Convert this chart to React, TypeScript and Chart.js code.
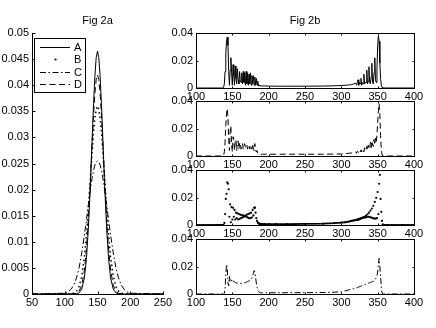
import React, { useEffect, useRef } from 'react';
import { Chart, registerables } from 'chart.js';

Chart.register(...registerables);

const W = 436;
const H = 328;
const FONT = "'Liberation Sans', Arial, Helvetica, sans-serif";

// ---------- Fig 2a (left panel) ----------
const titleLeft = 'Fig 2a';
const titleRight = 'Fig 2b';
const legendLabels = ['A', 'B', 'C', 'D'];

const xLeft = [50, 100, 106, 110, 114, 118, 122, 126, 130, 133, 136, 139, 142, 144, 146, 148, 150,
  152, 154, 156, 158, 161, 164, 167, 170, 174, 178, 182, 186, 190, 194, 200, 250];
const leftA = [0, 0, 0, 0, 0.00001, 0.00005, 0.00023, 0.00095, 0.0031, 0.0066, 0.0124, 0.0205, 0.0302, 0.0365, 0.0417, 0.0453, 0.0465,
  0.0453, 0.0417, 0.0365, 0.0302, 0.0205, 0.0124, 0.0066, 0.0031, 0.00095, 0.00023, 0.00005, 0.00001, 0, 0, 0, 0];
const leftB = [0, 0.00001, 0.00001, 0.00005, 0.00018, 0.00056, 0.00148, 0.0034, 0.0071, 0.0111, 0.0162, 0.022, 0.0277, 0.0311, 0.0337, 0.0354, 0.036,
  0.0354, 0.0337, 0.0311, 0.0277, 0.022, 0.0162, 0.0111, 0.0071, 0.0034, 0.00148, 0.00056, 0.00018, 0.00005, 0.00001, 0.00001, 0];
const leftC = [0, 0.00015, 0.00049, 0.00097, 0.0018, 0.0031, 0.0051, 0.0079, 0.0113, 0.0141, 0.0171, 0.0199, 0.0224, 0.0237, 0.0247, 0.0253, 0.0255,
  0.0253, 0.0247, 0.0237, 0.0224, 0.0199, 0.0171, 0.0141, 0.0113, 0.0079, 0.0051, 0.0031, 0.0018, 0.00097, 0.00049, 0.00015, 0];
const leftD = [0, 0, 0, 0.00001, 0.00003, 0.00014, 0.00055, 0.0017, 0.0046, 0.0085, 0.0142, 0.0215, 0.0295, 0.0344, 0.0384, 0.0411, 0.042,
  0.0411, 0.0384, 0.0344, 0.0295, 0.0215, 0.0142, 0.0085, 0.0046, 0.0017, 0.00055, 0.00014, 0.00003, 0.00001, 0, 0, 0];

const leftXTicks = [50, 100, 150, 200, 250];
const leftYTicks = [0, 0.005, 0.01, 0.015, 0.02, 0.025, 0.03, 0.035, 0.04, 0.045, 0.05];

// ---------- Fig 2b (right panels) ----------
const xRight = [100, 110, 120, 130, 135,
  136, 137, 138, 139, 140, 141, 142, 143, 144, 145,
  146, 147, 148, 149, 150, 151, 152, 153, 154, 155,
  156, 157, 158, 159, 160, 161, 162, 163, 164, 165,
  166, 167, 168, 169, 170, 171, 172, 173, 174, 175,
  176, 177, 178, 179, 180, 181, 182, 183, 184, 185,
  186, 187, 188, 189, 190, 191, 192,
  195, 200, 210, 225, 250, 275, 290, 300, 305, 310, 314, 317,
  320, 321, 322, 323, 324, 325, 326, 327, 328, 329,
  330, 331, 332, 333, 334, 335, 336, 337, 338, 339,
  340, 341, 342, 343, 344, 345, 346, 347, 348, 349,
  350, 351, 352, 353, 354, 355, 356, 357, 358, 359,
  360,
  363, 370, 385, 400];

const rightA = [0, 0, 0, 0, 0,
  0, 0, 0.0005, 0.003, 0.012, 0.025, 0.034, 0.037, 0.031, 0.012,
  0.002, 0.013, 0.022, 0.011, 0.002, 0.017, 0.009, 0.002, 0.016, 0.007,
  0.003, 0.014, 0.006, 0.003, 0.012, 0.005, 0.004, 0.011, 0.003, 0.012,
  0.004, 0.011, 0.002, 0.012, 0.003, 0.011, 0.002, 0.01, 0.003, 0.011,
  0.002, 0.009, 0.003, 0.009, 0.002, 0.008, 0.002, 0.007, 0.002, 0.005,
  0.0015, 0.002, 0.0015, 0.0015, 0.0015, 0.0015, 0.0015,
  0.0015, 0.0014, 0.0013, 0.0013, 0.0013, 0.0014, 0.0016, 0.0018, 0.002, 0.0022, 0.0025, 0.003,
  0.0035, 0.002, 0.004, 0.006, 0.002, 0.004, 0.003, 0.007, 0.002, 0.004,
  0.003, 0.01, 0.003, 0.004, 0.004, 0.013, 0.003, 0.005, 0.0155, 0.004,
  0.003, 0.008, 0.018, 0.004, 0.003, 0.011, 0.022, 0.006, 0.004, 0.014,
  0.031, 0.038, 0.034, 0.018, 0.007, 0.002, 0.0005, 0, 0, 0,
  0,
  0, 0, 0, 0];

const rightD = [0, 0, 0, 0, 0,
  0, 0, 0.0005, 0.003, 0.01, 0.022, 0.031, 0.0345, 0.028, 0.012,
  0.004, 0.018, 0.022, 0.008, 0.003, 0.014, 0.012, 0.004, 0.011, 0.012,
  0.004, 0.01, 0.011, 0.005, 0.009, 0.01, 0.005, 0.008, 0.009, 0.005,
  0.007, 0.009, 0.006, 0.007, 0.008, 0.005, 0.008, 0.007, 0.005, 0.008,
  0.006, 0.005, 0.009, 0.005, 0.004, 0.009, 0.004, 0.003, 0.004, 0.002,
  0.0015, 0.0013, 0.0013, 0.0013, 0.0013, 0.0013, 0.0013,
  0.0013, 0.0013, 0.0013, 0.0013, 0.0013, 0.0013, 0.0014, 0.0015, 0.0017, 0.002, 0.0022, 0.0025,
  0.003, 0.002, 0.0035, 0.003, 0.0025, 0.004, 0.003, 0.0045, 0.003, 0.004,
  0.005, 0.003, 0.006, 0.004, 0.005, 0.007, 0.004, 0.008, 0.006, 0.005,
  0.01, 0.006, 0.011, 0.008, 0.007, 0.012, 0.008, 0.013, 0.01, 0.015,
  0.024, 0.033, 0.038, 0.03, 0.015, 0.005, 0.001, 0, 0, 0,
  0,
  0, 0, 0, 0];

const rightB = [0, 0, 0, 0, 0,
  0, 0, 0, 0.0015, 0.008, 0.019, 0.0227, 0.031, 0.03, 0.026,
  0.006, 0.015, 0.002, 0.013, 0.004, 0.0125, 0.006, 0.011, 0.004, 0.009,
  0.005, 0.0085, 0.004, 0.008, 0.0045, 0.0075, 0.005, 0.0072, 0.0055, 0.007,
  0.006, 0.0065, 0.0068, 0.006, 0.0075, 0.0055, 0.008, 0.005, 0.0085, 0.005,
  0.009, 0.0055, 0.011, 0.007, 0.0125, 0.0128, 0.009, 0.005, 0.003, 0.0018,
  0.0012, 0.001, 0.0008, 0.0007, 0.0007, 0.0006, 0.0006,
  0.0006, 0.0006, 0.0006, 0.0006, 0.0008, 0.001, 0.0014, 0.0018, 0.002, 0.0025, 0.003, 0.0033,
  0.0036, 0.0037, 0.0039, 0.004, 0.0042, 0.0044, 0.0046, 0.0048, 0.005, 0.0052,
  0.0054, 0.0057, 0.006, 0.0055, 0.0068, 0.0058, 0.0078, 0.006, 0.009, 0.0058,
  0.0105, 0.0055, 0.012, 0.005, 0.014, 0.0048, 0.0168, 0.0046, 0.0198, 0.005,
  0.024, 0.008, 0.03, 0.0365, 0.019, 0.0096, 0.003, 0.0005, 0, 0,
  0,
  0, 0, 0, 0];

const rightC = [0, 0, 0, 0, 0,
  0, 0, 0, 0.0005, 0.004, 0.014, 0.0215, 0.019, 0.008, 0.006,
  0.0128, 0.009, 0.0105, 0.0095, 0.0105, 0.0095, 0.009, 0.0088, 0.0085, 0.0082,
  0.008, 0.0079, 0.0078, 0.0077, 0.0077, 0.0077, 0.0077, 0.0078, 0.0078, 0.0079,
  0.008, 0.0081, 0.0083, 0.0085, 0.0088, 0.009, 0.0093, 0.0096, 0.01, 0.0105,
  0.011, 0.0118, 0.013, 0.015, 0.017, 0.016, 0.012, 0.008, 0.005, 0.003,
  0.0018, 0.0012, 0.001, 0.0009, 0.0009, 0.0009, 0.0009,
  0.0009, 0.0009, 0.0009, 0.0009, 0.001, 0.0011, 0.0013, 0.0016, 0.0022, 0.003, 0.0035, 0.0039,
  0.0043, 0.0045, 0.0047, 0.0049, 0.0051, 0.0053, 0.0055, 0.0057, 0.0059, 0.0061,
  0.0063, 0.0065, 0.0067, 0.0069, 0.0071, 0.0074, 0.0076, 0.0078, 0.008, 0.0082,
  0.0084, 0.0086, 0.0088, 0.009, 0.0092, 0.0095, 0.01, 0.0108, 0.0118, 0.0128,
  0.016, 0.022, 0.026, 0.02, 0.013, 0.005, 0.001, 0, 0, 0,
  0,
  0, 0, 0, 0];

const rightXTicks = [100, 150, 200, 250, 300, 350, 400];
const rightYTicks = [0, 0.02, 0.04];

// ---------- styles ----------
const Y_AXIS_W = 30;
const X_AXIS_H = 16;
const DASH = [6, 3.5];
const DASHDOT = [6, 2.5, 1.5, 2.5];
const DOTTED = [1.5, 3];

type Box = { l: number; t: number; r: number; b: number };
type Panel = {
  box: Box;
  xs: number[];
  xMin: number; xMax: number; xTicks: number[];
  yMax: number; yTicks: number[];
  title?: string;
  framed: boolean;
  legend?: boolean;
  tickLen: number;
  series: { label: string; ys: number[]; kind: 'solid' | 'dash' | 'dashdot' | 'dotline' | 'dots' }[];
};

const panels: Panel[] = [
  {
    box: { l: 32, t: 33, r: 163, b: 294 }, xs: xLeft, xMin: 50, xMax: 250, xTicks: leftXTicks,
    yMax: 0.05, yTicks: leftYTicks, title: titleLeft, framed: false, legend: true, tickLen: 3,
    series: [
      { label: legendLabels[0], ys: leftA, kind: 'solid' },
      { label: legendLabels[1], ys: leftB, kind: 'dotline' },
      { label: legendLabels[2], ys: leftC, kind: 'dashdot' },
      { label: legendLabels[3], ys: leftD, kind: 'dash' },
    ],
  },
  {
    box: { l: 196, t: 33, r: 414, b: 88 }, xs: xRight, xMin: 100, xMax: 400, xTicks: rightXTicks,
    yMax: 0.04, yTicks: rightYTicks, title: titleRight, framed: true, tickLen: 2,
    series: [{ label: legendLabels[0], ys: rightA, kind: 'solid' }],
  },
  {
    box: { l: 196, t: 101, r: 414, b: 156 }, xs: xRight, xMin: 100, xMax: 400, xTicks: rightXTicks,
    yMax: 0.04, yTicks: rightYTicks, framed: true, tickLen: 2,
    series: [{ label: legendLabels[3], ys: rightD, kind: 'dash' }],
  },
  {
    box: { l: 196, t: 170, r: 414, b: 225 }, xs: xRight, xMin: 100, xMax: 400, xTicks: rightXTicks,
    yMax: 0.04, yTicks: rightYTicks, framed: true, tickLen: 2,
    series: [{ label: legendLabels[1], ys: rightB, kind: 'dots' }],
  },
  {
    box: { l: 196, t: 239, r: 414, b: 294 }, xs: xRight, xMin: 100, xMax: 400, xTicks: rightXTicks,
    yMax: 0.04, yTicks: rightYTicks, framed: true, tickLen: 2,
    series: [{ label: legendLabels[2], ys: rightC, kind: 'dashdot' }],
  },
];

const TITLE_LINE = 11 * 1.2;
const TITLE_TOP = 14.4;

function makeDataset(p: Panel, s: Panel['series'][number]) {
  const data = p.xs.map((x, i) => ({ x, y: s.ys[i] }));
  const base: any = {
    label: s.label,
    data,
    borderColor: '#000',
    backgroundColor: '#000',
    borderWidth: 1,
    pointRadius: 0,
    fill: false,
    tension: 0,
    borderCapStyle: 'butt',
    legendKind: s.kind,
  };
  if (s.kind === 'dash') base.borderDash = DASH;
  if (s.kind === 'dashdot') base.borderDash = DASHDOT;
  if (s.kind === 'dotline') { base.borderDash = DOTTED; base.borderWidth = 1.5; }
  if (s.kind === 'dots') {
    base.pointRadius = 1.1;
    base.pointBorderWidth = 0;
    base.pointBackgroundColor = '#000';
    base.borderWidth = 1.8;
    // dense runs of marker dots merge into a thick trace where the curve is smooth
    base.segment = {
      borderColor: (ctx: any) => {
        const dx = Math.abs(ctx.p1.parsed.x - ctx.p0.parsed.x) || 1;
        const dy = Math.abs(ctx.p1.parsed.y - ctx.p0.parsed.y);
        return dy / dx <= 0.00035 ? '#000' : 'rgba(0,0,0,0)';
      },
    };
  }
  return base;
}

const framePlugin = {
  id: 'matlabFrame',
  afterDatasetsDraw(chart: any, _args: any, opts: any) {
    const { ctx, chartArea: a, scales } = chart;
    const len = opts.tickLen as number;
    const framed = opts.framed as boolean;
    const L = Math.round(a.left) + 0.5;
    const R = Math.round(a.right) + 0.5;
    const T = Math.round(a.top) + 0.5;
    const B = Math.round(a.bottom) + 0.5;
    ctx.save();
    ctx.strokeStyle = '#000';
    ctx.lineWidth = 1;
    ctx.setLineDash([]);
    ctx.beginPath();
    scales.x.ticks.forEach((t: any) => {
      const px = Math.round(scales.x.getPixelForValue(t.value)) + 0.5;
      ctx.moveTo(px, B); ctx.lineTo(px, B - len);
      if (framed) { ctx.moveTo(px, T); ctx.lineTo(px, T + len); }
    });
    scales.y.ticks.forEach((t: any) => {
      const py = Math.round(scales.y.getPixelForValue(t.value)) + 0.5;
      ctx.moveTo(L, py); ctx.lineTo(L + len, py);
      if (framed) { ctx.moveTo(R, py); ctx.lineTo(R - len, py); }
    });
    if (framed) {
      ctx.moveTo(L, T); ctx.lineTo(R + 0.5, T);
      ctx.moveTo(R, T); ctx.lineTo(R, B + 0.5);
    }
    ctx.stroke();
    ctx.restore();
  },
};

const legendPlugin = {
  id: 'matlabLegend',
  afterDatasetsDraw(chart: any, _args: any, opts: any) {
    if (!opts.show) return;
    const { ctx, chartArea: a } = chart;
    const left = Math.round(a.left) + 2;
    const top = Math.round(a.top) + 5;
    const w = 51;
    const h = 54;
    ctx.save();
    ctx.fillStyle = '#fff';
    ctx.fillRect(left, top, w, h);
    ctx.strokeStyle = '#000';
    ctx.lineWidth = 1;
    ctx.setLineDash([]);
    ctx.strokeRect(left + 0.5, top + 0.5, w, h);
    ctx.font = `11px ${FONT}`;
    ctx.textBaseline = 'middle';
    ctx.textAlign = 'left';
    chart.data.datasets.forEach((ds: any, i: number) => {
      const y = Math.round(top + 8.5 + i * 12.6) + 0.5;
      ctx.strokeStyle = '#000';
      ctx.fillStyle = '#000';
      if (ds.legendKind === 'dotline' || ds.legendKind === 'dots') {
        ctx.beginPath();
        ctx.arc(left + 21.5, y, 1.1, 0, Math.PI * 2);
        ctx.fill();
      } else {
        ctx.setLineDash(ds.borderDash || []);
        ctx.lineWidth = 1;
        ctx.beginPath();
        ctx.moveTo(left + 6, y);
        ctx.lineTo(left + 36, y);
        ctx.stroke();
        ctx.setLineDash([]);
      }
      ctx.fillText(ds.label, left + 40, y + 0.5);
    });
    ctx.restore();
  },
};

function buildConfig(p: Panel): any {
  const hasTitle = !!p.title;
  const padTop = hasTitle ? TITLE_TOP : p.box.t;
  const titlePadBottom = p.box.t - TITLE_TOP - TITLE_LINE;
  return {
    type: 'line',
    data: { datasets: p.series.map((s) => makeDataset(p, s)) },
    plugins: [framePlugin, legendPlugin],
    options: {
      responsive: false,
      maintainAspectRatio: false,
      devicePixelRatio: 1,
      animation: false,
      events: [],
      layout: {
        padding: {
          left: p.box.l - Y_AXIS_W,
          top: padTop,
          right: W - p.box.r,
          bottom: H - p.box.b - X_AXIS_H,
        },
      },
      scales: {
        x: {
          type: 'linear',
          min: p.xMin,
          max: p.xMax,
          afterBuildTicks: (s: any) => { s.ticks = p.xTicks.map((v) => ({ value: v })); },
          afterFit: (s: any) => { s.height = X_AXIS_H; },
          ticks: {
            autoSkip: false, maxRotation: 0, minRotation: 0, color: '#000', padding: 2,
            font: { family: FONT, size: 11 },
            callback: (v: any) => String(v),
          },
          grid: { display: false, drawTicks: false },
          border: { display: true, color: '#000', width: 1 },
        },
        y: {
          type: 'linear',
          min: 0,
          max: p.yMax,
          afterBuildTicks: (s: any) => { s.ticks = p.yTicks.map((v) => ({ value: v })); },
          afterFit: (s: any) => { s.width = Y_AXIS_W; },
          ticks: {
            autoSkip: false, color: '#000', padding: 3,
            font: { family: FONT, size: 11 },
            callback: (v: any) => String(v),
          },
          grid: { display: false, drawTicks: false },
          border: { display: true, color: '#000', width: 1 },
        },
      },
      plugins: {
        legend: { display: false },
        tooltip: { enabled: false },
        title: {
          display: hasTitle,
          text: p.title || '',
          fullSize: false,
          color: '#000',
          font: { family: FONT, size: 11, weight: 'normal', lineHeight: 1.2 },
          padding: { top: 0, bottom: titlePadBottom },
        },
        matlabFrame: { framed: p.framed, tickLen: p.tickLen },
        matlabLegend: { show: !!p.legend },
      },
    },
  };
}

export default function App() {
  const refs = useRef<(HTMLCanvasElement | null)[]>([]);
  useEffect(() => {
    const charts = panels.map((p, i) => new Chart(refs.current[i] as HTMLCanvasElement, buildConfig(p)));
    return () => charts.forEach((c) => c.destroy());
  }, []);
  return (
    <div style={{ position: 'fixed', left: 0, top: 0, width: W, height: H, background: '#fff', overflow: 'hidden' }}>
      {panels.map((_, i) => (
        <canvas
          key={i}
          ref={(el) => { refs.current[i] = el; }}
          width={W}
          height={H}
          style={{ position: 'absolute', left: 0, top: 0, width: W, height: H }}
        />
      ))}
    </div>
  );
}
